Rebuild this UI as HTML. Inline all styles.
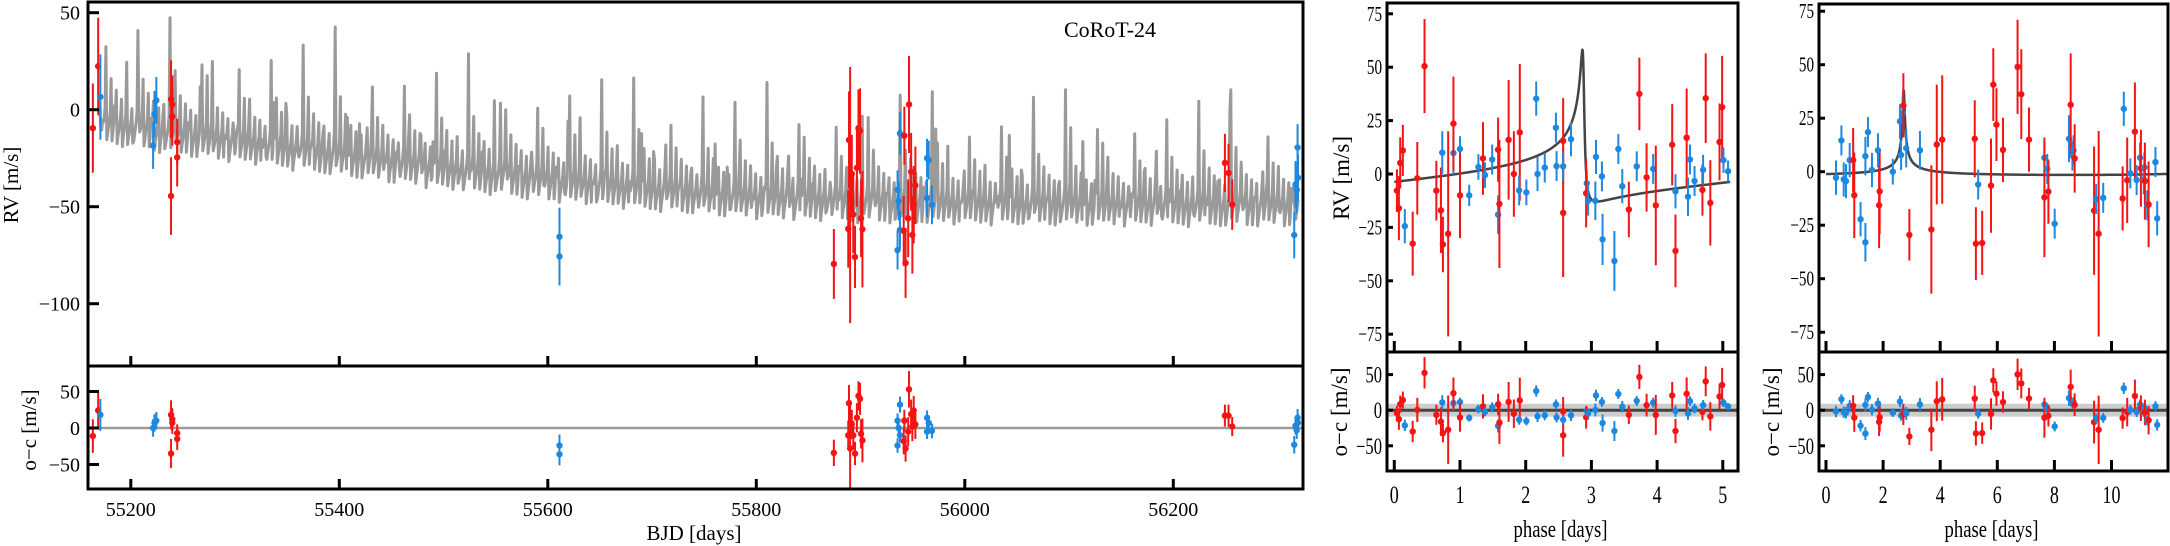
<!DOCTYPE html>
<html><head><meta charset="utf-8"><style>
html,body{margin:0;padding:0;background:#fff;}
svg{display:block;font-family:"Liberation Serif",serif;}
</style></head><body>
<svg id="fig" width="2170" height="546" viewBox="0 0 2170 546" xmlns="http://www.w3.org/2000/svg">
<defs>
<clipPath id="c1m"><rect x="88" y="2" width="1215" height="364"/></clipPath>
<clipPath id="c1r"><rect x="88" y="366" width="1215" height="123"/></clipPath>
<clipPath id="c2m"><rect x="1387" y="3" width="351" height="349"/></clipPath>
<clipPath id="c2r"><rect x="1387" y="352" width="351" height="119"/></clipPath>
<clipPath id="c3m"><rect x="1819" y="4" width="349" height="348"/></clipPath>
<clipPath id="c3r"><rect x="1819" y="352" width="349" height="119"/></clipPath>
</defs>
</svg>
<script>
// ---- data: panel 1 (time series) ----
const p1T   = [55163.6,55168.7,55170.8,55221.4,55222.7,55224.5,55238.6,55238.6,55239.8,55239.8,55244.5,55244.5,55611.2,55611.2,55874.4,55888.9,55888.2,55890,55891.6,55893,55894.7,55896.5,55898,55899.5,55900.5,55901.8,55935.5,55935.5,55936.5,55937.8,55937.8,55941.4,55942,55943.2,55946.5,55945.7,55948.5,55949.7,55951,55952.6,55963.8,55965.4,55963.8,55968.5,56249.5,56253,56256.5,56316,56317.2,56318.4,56319.2,56319.6];
const p1RV  = [-9.5,22.4,6.6,-18.5,-2.3,4.8,-44.5,5.4,2.7,-3.5,-16.7,-24.6,-65.5,-75.6,-79.5,-15.6,-61.4,-44,-33,-54,-75.9,-30,-9.5,-11,-56,-61.6,-41.3,-72.4,-47,-12.2,-62,-62.5,-13.4,-79,2.7,-56,-32,-64.5,-49,-39,-25,-26,-45.5,-49,-27.4,-32.6,-48.9,-64.6,-38.5,-41.3,-19.5,-35];
const p1Err = [23,25,22,12,12,12,20,20,15,15,12,15,15,15,18,25,20,66,20,20,16,20,20,22,20,30,10,10,10,11,10,18,15,18,25,20,20,20,20,20,10,10,10,10,15,15,13,12,12,12,12,12];
const p1Res = [-11,24,18,0,7,10,-35,18,12,7,-7,-15,-24,-36,-34,34,-10,-28,5,-10,-35,14,44,40,-8,-17,10,-24,0,32,-10,-18,10,-28,53,-5,19,2,24,5,14,7,-5,-4,17,17,2,-23,3,-3,14,7];
const p1Inst= [0,0,1,1,1,1,0,0,0,0,0,0,1,1,0,0,0,0,0,0,0,0,0,0,0,0,1,1,1,1,1,0,0,0,0,0,0,0,0,0,1,1,1,1,0,0,0,1,1,1,1,1];
// long-term trend knots
const trendT = [55160,55200,55300,55400,55500,55600,55700,55800,55900,56000,56100,56200,56320];
const trendV = [-3,-6,-13,-20,-27,-33,-38,-42,-44,-45,-45.5,-46,-46];
// keplerian parameters [b, c]
const kepP  = [5.1134,11.759];
const kepK  = [35.5,19.75];
const kepE  = [0.9,0.924];
const kepW  = [0.785,0.0];
const kepTp = [2.88,2.72];
// ---- panel 2 (planet b phase) ----
const p2Ph = [0.04,0.07,0.09,0.13,0.16,0.28,0.35,0.46,0.64,0.71,0.74,0.73,0.82,0.90,0.90,1.00,1.00,1.14,1.28,1.35,1.38,1.49,1.58,1.58,1.60,1.74,1.82,1.91,1.90,2.01,2.16,2.18,2.29,2.46,2.47,2.57,2.57,2.57,2.69,2.93,2.92,2.95,3.07,3.06,3.16,3.17,3.35,3.41,3.47,3.57,3.69,3.73,3.84,3.94,3.98,4.23,4.28,4.28,4.45,4.47,4.50,4.57,4.69,4.70,4.74,4.81,4.95,4.99,5.01,5.08];
const p2RV = [-7.8,-16,5.2,11,-24.4,-32.6,-2,50.5,-7.8,-17,-33,10,-28,9.8,23.6,11.7,-10,-10,3.3,7.3,-0.5,6.8,11.4,-19,-14,16,0,19.5,-7.7,-8.6,35.3,0,3,21.7,3.7,15.5,-18.2,3.6,16.3,-4.4,-9,-12.5,8,-12.5,-1.1,-30.6,-40.7,11.7,-5.7,-16.6,3.6,37.5,-1.6,2.4,-14.7,13.7,-8.1,-36,17,-10.6,6.8,-3.3,-7.5,2,35.5,-13.5,15,31.3,6.5,1.3];
const p2Err= [10,15,12,12,8,15,17,22,14,20,13,10,48,10,22,6,20,5,6,17,6,7,15,9,30,28,20,32,7,6,8,8,7,7,7,20,30,7,8,6,16,7,8,9,7,12,14,7,8,13,7,17,16,7,28,19,8,17,23,9,7,7,12,7,21,20,18,24,6,5];
const p2Inst=[0,0,0,0,1,0,0,0,0,0,0,1,0,1,0,1,0,1,1,0,1,1,0,1,0,0,0,0,1,1,1,1,1,1,1,0,0,1,1,1,0,1,1,1,1,1,1,1,1,0,1,0,0,1,0,0,1,0,0,1,1,1,0,1,0,0,0,0,1,1];
// ---- panel 3 (planet c phase) ----
const p3Ph = [0.35,0.54,0.62,0.70,0.83,0.95,0.99,1.21,1.38,1.38,1.47,1.61,1.88,1.86,1.82,2.34,2.59,2.63,2.69,2.71,2.81,2.92,3.29,3.69,3.88,4.07,5.21,5.25,5.33,5.47,5.78,5.86,5.97,6.20,6.71,6.84,7.11,7.65,7.65,7.75,7.79,8.01,8.51,8.57,8.63,8.67,8.71,9.39,9.46,9.55,9.71,10.39,10.43,10.55,10.66,10.82,10.88,11.00,11.03,11.13,11.15,11.17,11.25,11.30,11.54];
const p3RV = [-2.8,14.6,-3.6,-4.4,5.4,5.4,-11,-22.2,-33,7.3,18.5,0.8,-9.2,-15.7,10,0,23.5,7.8,27.3,31,11,-29.5,10,-27,12.7,15,15.4,-33.6,-6,-33.3,-6.5,40.7,22,10.2,49,36.2,15,6.5,-12,1.3,-9.3,-24.3,15.4,31.3,7.5,10,6.2,-18.2,-12.8,-29,-12.2,-12.5,29.4,-4,-0.8,18.7,-3.9,6.5,1.6,-3.6,2,-4.4,-15.7,-15.3,4.5];
const p3Err= [8,7,8,8,8,15,20,8,9,9,7,8,20,20,8,6,8,7,9,15,9,12,9,30,28,30,18,17,7,15,22,17,17,15,22,21,15,7,28,7,15,7,11,24,7,7,16,30,7,48,7,15,8,20,7,23,7,7,18,7,7,18,7,20,7];
const p3Inst=[1,1,1,1,1,0,0,1,1,1,1,1,0,0,1,1,1,1,1,0,1,0,1,0,0,0,0,0,1,0,0,0,0,0,0,0,0,1,0,1,0,1,1,0,1,1,0,0,1,0,1,0,1,0,1,0,1,1,0,1,1,0,1,0,1];
const p3xPh = [11.60];
const p3xRV = [-21.8];
const p3xErr= [8];

// ---- axis functions ----
const X1 = t => 130.8 + (t - 55200) * 1.0425;
const Y1 = v => 109.7 - v * 1.94;
const R1 = v => 428 - v * 0.73;
const X2 = p => 1394.3 + p * 65.7;
const Y2 = v => 174 - v * 2.136;
const R2 = v => 410.2 - v * 0.712;
const X3 = p => 1826 + p * 28.55;
const Y3 = v => 171.7 - v * 2.14;
const R3 = v => 410.2 - v * 0.712;
const RED = '#f41414', BLUE = '#1c88e0';

const NS = 'http://www.w3.org/2000/svg';
const svg = document.getElementById('fig');
function mk(tag, attrs, parent) {
  const el = document.createElementNS(NS, tag);
  for (const k in attrs) el.setAttribute(k, attrs[k]);
  (parent || svg).appendChild(el);
  return el;
}
function kep(ph, i) {
  const e = kepE[i];
  let M = 2 * Math.PI * (ph - kepTp[i]) / kepP[i];
  M = Math.atan2(Math.sin(M), Math.cos(M));
  let E = M >= 0 ? Math.PI * 0.5 : -Math.PI * 0.5;
  for (let k = 0; k < 60; k++) { E = E - (E - e * Math.sin(E) - M) / (1 - e * Math.cos(E)); }
  const nu = 2 * Math.atan2(Math.sqrt(1 + e) * Math.sin(E / 2), Math.sqrt(1 - e) * Math.cos(E / 2));
  return kepK[i] * (Math.cos(nu + kepW[i]) + e * Math.cos(kepW[i]));
}
function trend(t) {
  for (let i = 0; i < trendT.length - 1; i++) {
    if (t <= trendT[i + 1]) { const f = (t - trendT[i]) / (trendT[i + 1] - trendT[i]); return trendV[i] + f * (trendV[i + 1] - trendV[i]); }
  }
  return trendV[trendV.length - 1];
}
const T0 = 55158;
function fullModel(t) {
  const pb = ((t - T0) % kepP[0] + kepP[0]) % kepP[0];
  const pc = ((t - T0) % kepP[1] + kepP[1]) % kepP[1];
  return trend(t) + kep(pb, 0) + kep(pc, 1);
}
function txt(x, y, s, size, anchor, extra) {
  const el = mk('text', Object.assign({x: x, y: y, 'font-size': size, 'text-anchor': anchor || 'middle', fill: '#000'}, extra || {}));
  el.textContent = s;
  return el;
}
function pt(g, x, y, ylo, yhi, col) {
  const ln = mk('line', {x1: x, x2: x, y1: ylo, y2: yhi, stroke: col, 'stroke-width': 2}, g);
  
  
  const c = mk('circle', {cx: x, cy: y, r: 3.2, fill: col}, g);
  
  
}

// ===== PANEL 1 =====
const g1 = mk('g', {'clip-path': 'url(#c1m)'});


let d = '';
for (let t = 55169.5; t <= 56320; t += 0.83) { d += (d ? 'L' : 'M') + X1(t).toFixed(1) + ',' + Y1(fullModel(t)).toFixed(1); }
const m1 = mk('path', {d: d, fill: 'none', stroke: '#9a9a9a', 'stroke-width': 3, 'stroke-linejoin': 'round'}, g1);


const g1r = mk('g', {'clip-path': 'url(#c1r)'});


const z1 = mk('line', {x1: 88, x2: 1303, y1: R1(0), y2: R1(0), stroke: '#9a9a9a', 'stroke-width': 2.5}, g1r);


for (let i = 0; i < p1T.length; i++) {
  const col = p1Inst[i] ? BLUE : RED;
  pt(g1, X1(p1T[i]), Y1(p1RV[i]), Y1(p1RV[i] - p1Err[i]), Y1(p1RV[i] + p1Err[i]), col);
  pt(g1r, X1(p1T[i]), R1(p1Res[i]), R1(p1Res[i] - p1Err[i]), R1(p1Res[i] + p1Err[i]), col);
}
function frame(x, y, w, h, name) {
  const r = mk('rect', {x: x, y: y, width: w, height: h, fill: 'none', stroke: '#000', 'stroke-width': 3});
  
  
}
frame(88, 2, 1215, 364, 'timeseries-frame');
frame(88, 366, 1215, 123, 'timeseries-residual-frame');
const p1xt = [55200, 55400, 55600, 55800, 56000, 56200];
const p1yt = [-100, -50, 0, 50];
const p1rt = [-50, 0, 50];
function tick(x1, y1, x2, y2) {
  const l = mk('line', {x1: x1, y1: y1, x2: x2, y2: y2, stroke: '#000', 'stroke-width': 3});
  
  
}
for (const t of p1xt) {
  tick(X1(t), 366, X1(t), 356); tick(X1(t), 489, X1(t), 479);
  const l = txt(X1(t), 516, String(t), 20);
  
  
}
for (const v of p1yt) {
  tick(88, Y1(v), 99, Y1(v));
  const l = txt(80, Y1(v) + 7, v < 0 ? '\u2212' + (-v) : String(v), 20, 'end');
  
  
}
for (const v of p1rt) {
  tick(88, R1(v), 99, R1(v));
  const l = txt(80, R1(v) + 7, v < 0 ? '\u2212' + (-v) : String(v), 20, 'end');
  
  
}
let l;
l = txt(694, 540, 'BJD [days]', 21, 'middle');


l = txt(0, 0, 'RV [m/s]', 21, 'middle', {transform: 'translate(18,185) rotate(-90)'});


l = txt(0, 0, 'o\u2212c [m/s]', 21, 'middle', {transform: 'translate(36,430) rotate(-90)'});


l = txt(1110, 37, 'CoRoT-24', 22, 'middle');



// ===== PHASE PANELS =====
function phasePanel(cfg) {
  const gm = mk('g', {'clip-path': cfg.clipM});
  
  
  const gr = mk('g', {'clip-path': cfg.clipR});
  
  
  const band = mk('rect', {x: cfg.x0, y: cfg.R(9), width: cfg.w, height: cfg.R(-9) - cfg.R(9), fill: '#cdcdcd'}, gr);
  
  
  const zl = mk('line', {x1: cfg.x0, x2: cfg.x0 + cfg.w, y1: cfg.R(0), y2: cfg.R(0), stroke: '#444', 'stroke-width': 3}, gr);
  
  
  let dd = '';
  for (let p = 0; p <= cfg.pmax; p += 0.0015) { dd += (dd ? 'L' : 'M') + cfg.X(p).toFixed(2) + ',' + cfg.Y(kep(p, cfg.k)).toFixed(2); }
  const c = mk('path', {d: dd, fill: 'none', stroke: '#444', 'stroke-width': 2.5}, gm);
  
  
  for (let i = 0; i < cfg.ph.length; i++) {
    const col = cfg.inst[i] ? BLUE : RED;
    const v = cfg.rv[i], e = cfg.err[i], r = v - kep(cfg.ph[i], cfg.k);
    pt(gm, cfg.X(cfg.ph[i]), cfg.Y(v), cfg.Y(v - e), cfg.Y(v + e), col);
    pt(gr, cfg.X(cfg.ph[i]), cfg.R(r), cfg.R(r - e), cfg.R(r + e), col);
  }
  frame(cfg.x0, cfg.y0, cfg.w, 352 - cfg.y0, cfg.name + '-frame');
  frame(cfg.x0, 352, cfg.w, 119, cfg.name + '-residual-frame');
  for (const t of cfg.xt) {
    tick(cfg.X(t), 352, cfg.X(t), 341); tick(cfg.X(t), 471, cfg.X(t), 460);
    const lb = txt(0, 0, String(t), 25, 'middle', {transform: 'translate(' + cfg.X(t) + ',503) scale(0.72,1)'});
    
    
  }
  for (const v of cfg.yt) {
    tick(cfg.x0, cfg.Y(v), cfg.x0 + 6, cfg.Y(v));
    const lb = txt(0, 0, v < 0 ? '\u2212' + (-v) : String(v), 21, 'end', {transform: 'translate(' + (cfg.x0 - 5) + ',' + (cfg.Y(v) + 7) + ') scale(0.72,1)'});
    
    
  }
  for (const v of [-50, 0, 50]) {
    tick(cfg.x0, cfg.R(v), cfg.x0 + 6, cfg.R(v));
    const lb = txt(0, 0, v < 0 ? '\u2212' + (-v) : String(v), 23, 'end', {transform: 'translate(' + (cfg.x0 - 5) + ',' + (cfg.R(v) + 8) + ') scale(0.72,1)'});
    
    
  }
  const xl = txt(0, 0, 'phase [days]', 24, 'middle', {transform: 'translate(' + (cfg.x0 + cfg.w / 2 - 2) + ',537) scale(0.78,1)'});
  
  
  const ol = txt(0, 0, 'o\u2212c [m/s]', 23, 'middle', {transform: 'translate(' + (cfg.x0 - 40) + ',412) rotate(-90)'});
  
  
  if (cfg.rvLabel) {
    const rl = txt(0, 0, 'RV [m/s]', 23, 'middle', {transform: 'translate(' + (cfg.x0 - 38) + ',178) rotate(-90)'});
    
    
  }
}
phasePanel({name: 'phase-b', clipM: 'url(#c2m)', clipR: 'url(#c2r)', x0: 1387, y0: 3, w: 351, X: X2, Y: Y2, R: R2, k: 0, pmax: 5.1134,
  ph: p2Ph, rv: p2RV, err: p2Err, inst: p2Inst, xt: [0, 1, 2, 3, 4, 5], yt: [-75, -50, -25, 0, 25, 50, 75], rvLabel: true});
phasePanel({name: 'phase-c', clipM: 'url(#c3m)', clipR: 'url(#c3r)', x0: 1819, y0: 4, w: 349, X: X3, Y: Y3, R: R3, k: 1, pmax: 12.1,
  ph: p3Ph.concat(p3xPh), rv: p3RV.concat(p3xRV), err: p3Err.concat(p3xErr), inst: p3Inst.concat([1]), xt: [0, 2, 4, 6, 8, 10], yt: [-75, -50, -25, 0, 25, 50, 75], rvLabel: false});
</script>
</body></html>
